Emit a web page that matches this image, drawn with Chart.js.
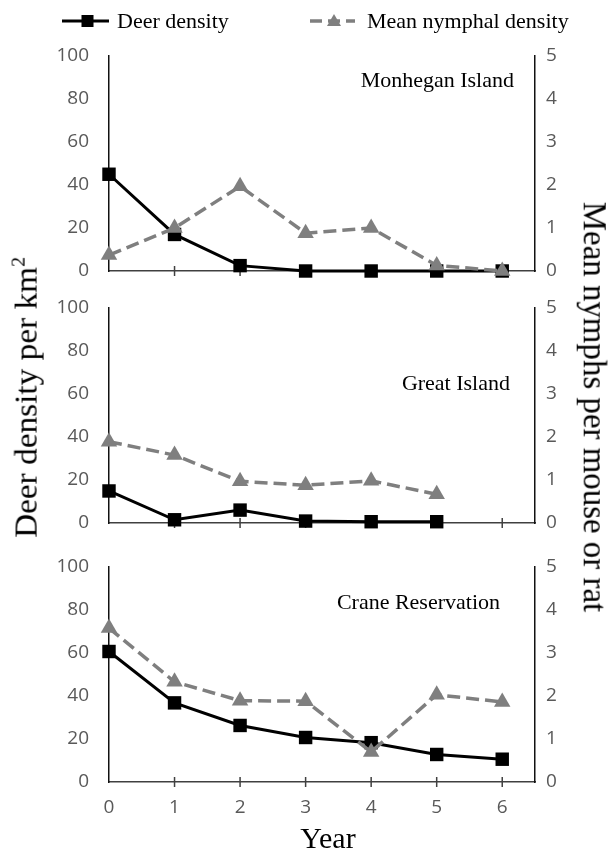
<!DOCTYPE html>
<html>
<head>
<meta charset="utf-8">
<script src="https://cdn.jsdelivr.net/npm/chart.js@4.4.1/dist/chart.umd.min.js"></script>
<style>
  html, body { margin: 0; padding: 0; background: #fff; }
  #page { position: relative; width: 612px; height: 855px; overflow: hidden;
          font-family: "Liberation Serif", "Times New Roman", serif; color: #000; }
  .panel { position: absolute; left: 0; width: 612px; }
  .site { position: absolute; font-size: 22px; line-height: 26px; white-space: nowrap; }
  .legend-text { position: absolute; top: 8px; font-size: 22px; line-height: 26px; white-space: nowrap; }
  .swatch { position: absolute; top: 11px; }
  .vtitle { position: absolute; white-space: nowrap; line-height: 1.15; transform-origin: center; }
  sup { font-size: 0.6em; vertical-align: 0.6em; line-height: 0; }
  #xtitle { position: absolute; left: 228px; top: 823px; width: 200px; text-align: center;
            font-size: 30px; line-height: 30px; }
</style>
</head>
<body>
<div id="page">
  <div class="panel" style="top:24px;height:279px"><canvas id="c1" width="612" height="279"></canvas></div>
  <div class="panel" style="top:276px;height:279px"><canvas id="c2" width="612" height="279"></canvas></div>
  <div class="panel" style="top:535px;height:290px"><canvas id="c3" width="612" height="290"></canvas></div>

  <!-- legend -->
  <svg class="swatch" style="left:60px" width="52" height="20">
    <line x1="2" y1="10" x2="49" y2="10" stroke="#000" stroke-width="3"/>
    <rect x="21.5" y="4" width="12" height="12" fill="#000"/>
  </svg>
  <div class="legend-text" style="left:117px">Deer density</div>
  <svg class="swatch" style="left:308px" width="50" height="20">
    <line x1="2" y1="10" x2="47" y2="10" stroke="#7f7f7f" stroke-width="3.5" stroke-dasharray="12,6"/>
    <polygon points="26,3 33,15 19,15" fill="#7f7f7f"/>
  </svg>
  <div class="legend-text" style="left:367px">Mean nymphal density</div>

  <div class="site" style="right:98px;top:67px">Monhegan Island</div>
  <div class="site" style="right:102px;top:370px">Great Island</div>
  <div class="site" style="right:112px;top:589px">Crane Reservation</div>

  <div id="ltitle" class="vtitle" style="font-size:32px">Deer density per km<sup>2</sup></div>
  <div id="rtitle" class="vtitle" style="font-size:33px">Mean nymphs per mouse or rat</div>
  <div id="xtitle">Year</div>
</div>

<script>
// 연도 (x축)
const years = [0, 1, 2, 3, 4, 5, 6];

// Monhegan Island
const monheganDeer = [45, 17, 2.5, 0, 0, 0, 0];
const monheganNymph = [0.37, 1.0, 1.97, 0.88, 1.0, 0.13, 0.0];

// Great Island (6년차 없음)
const greatDeer = [14.9, 1.5, 6.0, 0.9, 0.6, 0.6, null];
const greatNymph = [1.89, 1.58, 0.97, 0.88, 0.98, 0.67, null];

// Crane Reservation
const craneDeer = [60.7, 36.8, 26.3, 20.7, 18.3, 12.8, 10.6];
const craneNymph = [3.58, 2.33, 1.89, 1.88, 0.70, 2.03, 1.86];

// 축 눈금
const deerTicks = { min: 0, max: 100, step: 20 };
const nymphTicks = { min: 0, max: 5, step: 1 };

const tickFont = { family: "'Open Sans'", size: 19 };
const tickColor = '#595959';

function toPoints(values) {
    return years.map((yr, i) => ({ x: yr, y: values[i] }));
}

// x축 눈금이 축선을 가로지르게 그림 (Excel 스타일)
const crossTicks = {
    id: 'crossTicks',
    beforeDatasetsDraw(chart) {
        const xs = chart.scales.x;
        const y0 = chart.scales.y.getPixelForValue(0);
        const ctx = chart.ctx;
        ctx.save();
        ctx.strokeStyle = '#404040';
        ctx.lineWidth = 1.5;
        xs.ticks.forEach(t => {
            if (t.value === 0) return;
            const px = xs.getPixelForValue(t.value);
            ctx.beginPath();
            ctx.moveTo(px, y0 - 5);
            ctx.lineTo(px, y0 + 5);
            ctx.stroke();
        });
        ctx.restore();
    }
};

function makePanel(id, deer, nymph, showX, xHeight) {
    const ctx = document.getElementById(id).getContext('2d');
    return new Chart(ctx, {
        type: 'line',
        data: {
            datasets: [
                {
                    label: 'Mean nymphal density',
                    data: toPoints(nymph),
                    yAxisID: 'y1',
                    order: 1,
                    borderColor: '#7f7f7f',
                    backgroundColor: '#7f7f7f',
                    borderWidth: 3.5,
                    borderDash: [13, 6],
                    pointStyle: 'triangle',
                    pointRadius: 9.5,
                    pointBorderWidth: 0,
                    tension: 0,
                    clip: false
                },
                {
                    label: 'Deer density',
                    data: toPoints(deer),
                    yAxisID: 'y',
                    order: 2,
                    borderColor: '#000',
                    backgroundColor: '#000',
                    borderWidth: 3,
                    pointStyle: 'rect',
                    pointRadius: 9.5,
                    pointBorderWidth: 0,
                    tension: 0,
                    clip: false
                }
            ]
        },
        options: {
            responsive: false,
            animation: false,
            events: [],
            layout: { padding: { top: 32, left: 0, right: 0, bottom: 0 } },
            plugins: { legend: { display: false }, tooltip: { enabled: false } },
            scales: {
                x: {
                    type: 'linear',
                    position: 'bottom',
                    min: 0,
                    max: 6.5,
                    ticks: {
                        display: showX,
                        stepSize: 1,
                        includeBounds: false,
                        padding: 14,
                        color: tickColor,
                        font: tickFont
                    },
                    grid: { display: false, drawTicks: false },
                    border: { display: true, color: '#404040', width: 1.5 },
                    afterFit(scale) { scale.height = xHeight; }
                },
                y: {
                    position: 'left',
                    min: deerTicks.min,
                    max: deerTicks.max,
                    ticks: { stepSize: deerTicks.step, padding: 20, color: tickColor, font: tickFont },
                    grid: { display: false, drawTicks: false },
                    border: { display: true, color: '#111', width: 1.5 },
                    afterFit(scale) { scale.width = 109; }
                },
                y1: {
                    position: 'right',
                    min: nymphTicks.min,
                    max: nymphTicks.max,
                    ticks: { stepSize: nymphTicks.step, padding: 11, color: tickColor, font: tickFont },
                    grid: { display: false, drawTicks: false },
                    border: { display: true, color: '#111', width: 1.5 },
                    afterFit(scale) { scale.width = 77; }
                }
            }
        },
        plugins: [crossTicks]
    });
}

makePanel('c1', monheganDeer, monheganNymph, false, 32);
makePanel('c2', greatDeer, greatNymph, false, 32);
makePanel('c3', craneDeer, craneNymph, true, 43);

// 세로 축 제목 배치
function placeVertical(id, cx, cy, length, angle) {
    const el = document.getElementById(id);
    const w = el.offsetWidth, h = el.offsetHeight;
    el.style.left = (cx - w / 2) + 'px';
    el.style.top = (cy - h / 2) + 'px';
    el.style.transform = 'rotate(' + angle + 'deg) scale(' + (length / w) + ', 1)';
}
placeVertical('ltitle', 26, 397, 281, -90);
placeVertical('rtitle', 594, 407, 411, 90);
</script>
</body>
</html>
